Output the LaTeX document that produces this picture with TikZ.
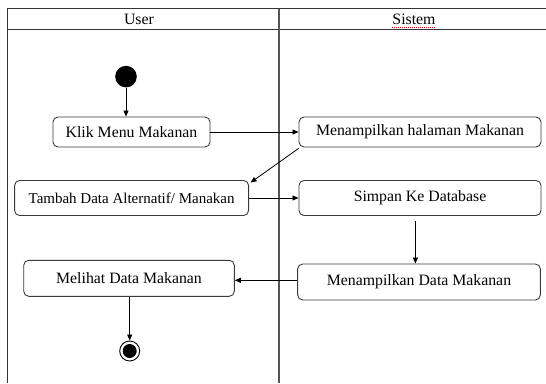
\documentclass[tikz,border=0pt]{standalone}
\usepackage{fontspec}
\setmainfont{Liberation Serif}
\usetikzlibrary{arrows.meta,calc}
\definecolor{frm}{HTML}{333333}
\definecolor{dvd}{HTML}{555555}
\definecolor{bx}{HTML}{3a3a3a}
\tikzset{
  act/.style={draw=bx, line width=0.9pt, rounded corners=5pt, inner sep=0pt, align=center,
    font=\fontsize{15.8}{18}\selectfont},
  flow/.style={draw=black, line width=0.8pt, -{Triangle[length=6pt,width=5pt]}},
  lane/.style={draw=frm, line width=1pt},
  hdr/.style={font=\fontsize{15.8}{18}\selectfont, inner sep=0pt}
}
\begin{document}
\begin{tikzpicture}[x=1pt,y=-1pt]
\useasboundingbox (0,0) rectangle (546,383);
% swimlane frame
\draw[lane] (7,383) -- (7,8.7) -- (546,8.7);
\draw[lane] (7,29.6) -- (546,29.6);
\draw[draw=dvd, line width=1.3pt] (279,8.7) -- (279,383);
\node[hdr] (huser) at (139,19.5) {User};
\node[hdr] (hsis) at (414,19.5) {Sistem};
\draw[red!85!black, line width=0.8pt, dash pattern=on 1pt off 1pt] ($(hsis.south west)+(0,2.5)$) -- ($(hsis.south east)+(0,2.5)$);
% start and end
\node[circle, fill=black, minimum size=21.6pt, inner sep=0pt] (start) at (126,76.6) {};
\node[circle, draw=black, line width=0.9pt, minimum size=20pt, inner sep=0pt] (endo) at (129.7,351) {};
\node[circle, fill=black, minimum size=14pt, inner sep=0pt] (endi) at (endo.center) {};
% activities
\node[act, minimum width=157pt, minimum height=30pt] (klik) at (131.5,132) {Klik Menu Makanan};
\node[act, minimum width=242pt, minimum height=30pt] (menhal) at (420,132) {Menampilkan halaman Makanan};
\node[act, minimum width=234pt, minimum height=35pt, font=\fontsize{15}{18}\selectfont] (tambah) at (131.6,198) {Tambah Data Alternatif/ Manakan};
\node[act, minimum width=242pt, minimum height=35pt] (simpan) at (420,198) {Simpan Ke Database};
\node[act, minimum width=210.6pt, minimum height=36pt] (melihat) at (129,278.3) {Melihat Data Makanan};
\node[act, minimum width=242.7pt, minimum height=36pt] (mendata) at (419,282) {Menampilkan Data Makanan};
% flows
\draw[flow] (start.south) -- (start.south |- klik.north);
\draw[flow] (klik.east) -- (menhal.west);
\draw[flow] ($(menhal.south west)+(0,1)$) -- ($(tambah.north east)+(1.5,2.5)$);
\draw[flow] (tambah.east) -- (tambah.east -| simpan.west);
\coordinate (sb) at ($(simpan.south)+(-4.6,5)$);
\draw[flow] (sb) -- (sb |- mendata.north);
\coordinate (mw) at ($(mendata.west)+(0,-1.7)$);
\draw[flow] (mw) -- (mw -| melihat.east);
\draw[flow] (melihat.south -| endo.center) -- (endo.north);
\end{tikzpicture}
\end{document}
